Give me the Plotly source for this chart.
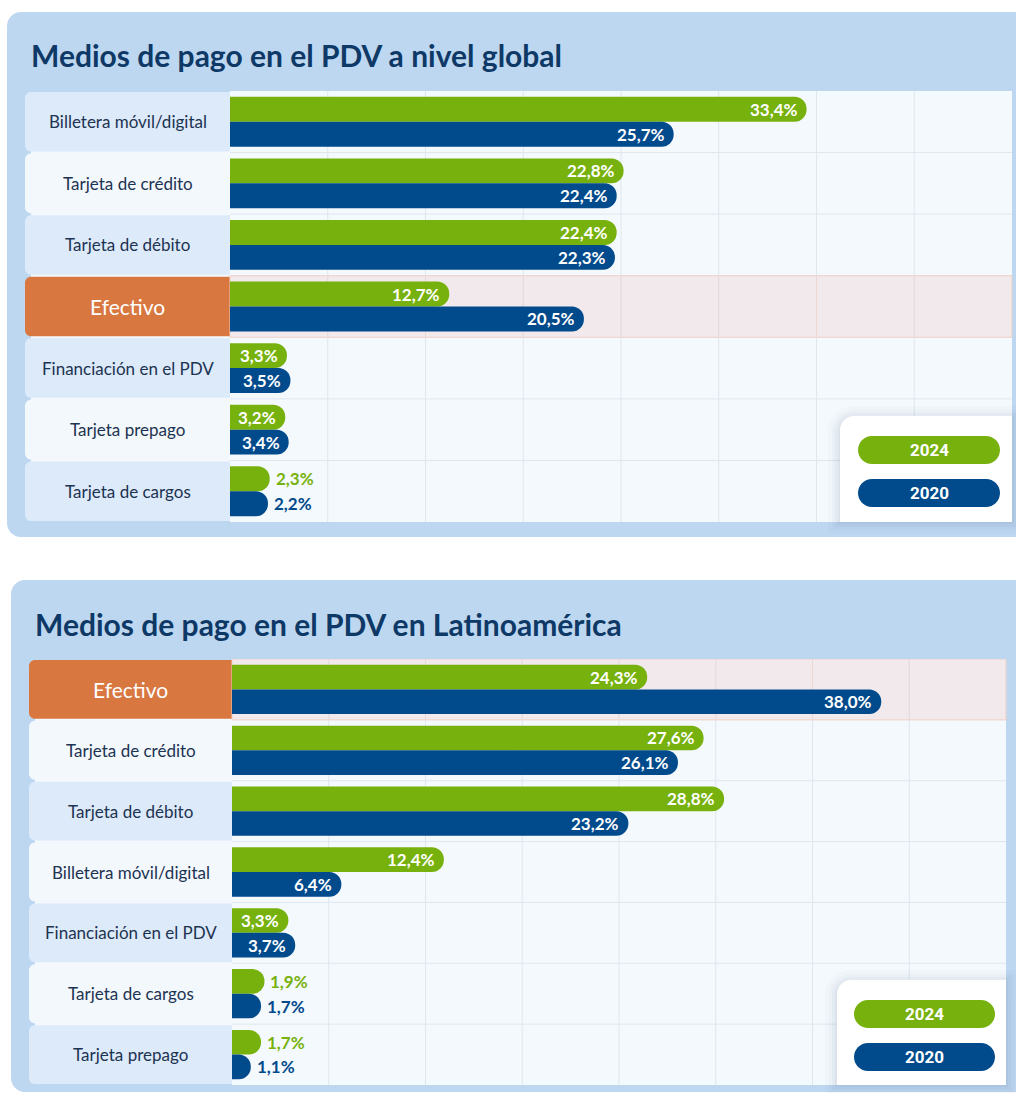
import plotly.graph_objects as go

W, H = 1016, 1093

# ---------------- data ----------------
categories_global = ["Billetera móvil/digital", "Tarjeta de crédito", "Tarjeta de débito",
                     "Efectivo", "Financiación en el PDV", "Tarjeta prepago", "Tarjeta de cargos"]
values_global_2024 = [33.4, 22.8, 22.4, 12.7, 3.3, 3.2, 2.3]
values_global_2020 = [25.7, 22.4, 22.3, 20.5, 3.5, 3.4, 2.2]

categories_latam = ["Efectivo", "Tarjeta de crédito", "Tarjeta de débito",
                    "Billetera móvil/digital", "Financiación en el PDV", "Tarjeta de cargos", "Tarjeta prepago"]
values_latam_2024 = [24.3, 27.6, 28.8, 12.4, 3.3, 1.9, 1.7]
values_latam_2020 = [38.0, 26.1, 23.2, 6.4, 3.7, 1.7, 1.1]

series_names = ["2024", "2020"]
panel_titles = ["Medios de pago en el PDV a nivel global",
                "Medios de pago en el PDV en Latinoamérica"]
highlight_category = "Efectivo"

# ---------------- style ----------------
GREEN = "#77B10D"
NAVY = "#014A8C"
CARD = "#BDD7F1"
CELL_A = "#DCEAF9"
CELL_B = "#F3F8FD"
ORANGE = "#D8773F"
PLOT_BG = "#F4F9FD"
HILITE_BG = "#F1E9EC"
HILITE_LINE = "#EFCFC3"
HILITE_GRID = "#EBD8D5"
GRID = "#DEE6EE"
TITLE_C = "#0E3966"
LABEL_C = "#1D3352"
XMAX = 45.3
BARGAP = 0.19
FONT = "Lato"

panels_geom = [
    dict(card=(7, 12, 1040, 537), title=(29, 55), label_x=(25, 230), plot_x=(230, 1012),
         rows_y=(91, 522), legend_box=(840, 416, 1012, 522),
         pills=[(858, 436, 1000, 464), (858, 479, 1000, 507)]),
    dict(card=(11, 580, 1040, 1092), title=(33, 624), label_x=(29, 232), plot_x=(232, 1006),
         rows_y=(659, 1085), legend_box=(837, 980, 1006, 1085),
         pills=[(854, 1000, 995, 1028), (854, 1043, 995, 1071)]),
]

panels_data = [
    (categories_global, values_global_2024, values_global_2020),
    (categories_latam, values_latam_2024, values_latam_2020),
]


def P(x, y):
    return f"{x / W:.5f},{1 - y / H:.5f}"


def rounded_path(x0, y0, x1, y1, tl=0, tr=0, br=0, bl=0):
    k = 0.4477
    s = [f"M{P(x0 + tl, y0)}", f"L{P(x1 - tr, y0)}"]
    if tr:
        s.append(f"C{P(x1 - tr * k, y0)} {P(x1, y0 + tr * k)} {P(x1, y0 + tr)}")
    s.append(f"L{P(x1, y1 - br)}")
    if br:
        s.append(f"C{P(x1, y1 - br * k)} {P(x1 - br * k, y1)} {P(x1 - br, y1)}")
    s.append(f"L{P(x0 + bl, y1)}")
    if bl:
        s.append(f"C{P(x0 + bl * k, y1)} {P(x0, y1 - bl * k)} {P(x0, y1 - bl)}")
    s.append(f"L{P(x0, y0 + tl)}")
    if tl:
        s.append(f"C{P(x0, y0 + tl * k)} {P(x0 + tl * k, y0)} {P(x0 + tl, y0)}")
    s.append("Z")
    return " ".join(s)


def fmt(v):
    return f"{v:.1f}".replace(".", ",") + "%"


fig = go.Figure()
shapes = []
annotations = []

for pi, (geom, (cats, v24, v20)) in enumerate(zip(panels_geom, panels_data)):
    sfx = "" if pi == 0 else str(pi + 1)
    xr, yr = "x" + sfx, "y" + sfx
    n = len(cats)
    lx0, lx1 = geom["label_x"]
    px0, px1 = geom["plot_x"]
    ry0, ry1 = geom["rows_y"]
    rh = (ry1 - ry0) / n

    # card
    cx0, cy0, cx1, cy1 = geom["card"]
    shapes.append(dict(type="path", path=rounded_path(cx0, cy0, cx1, cy1, 14, 14, 14, 14),
                       xref="paper", yref="paper", fillcolor=CARD, line=dict(width=0), layer="below"))
    # label column underlay
    shapes.append(dict(type="path", path=rounded_path(lx0 + 6, ry0 + 1, lx1, ry1 - 1),
                       xref="paper", yref="paper", fillcolor=PLOT_BG, line=dict(width=0), layer="below"))
    # label cells
    for i, c in enumerate(cats):
        y0 = ry0 + i * rh
        fill = ORANGE if c == highlight_category else (CELL_A if i % 2 == 0 else CELL_B)
        shapes.append(dict(type="path", path=rounded_path(lx0, y0 + 1, lx1, y0 + rh - 1, tl=6, bl=6),
                           xref="paper", yref="paper", fillcolor=fill, line=dict(width=0), layer="below"))
        hl = c == highlight_category
        annotations.append(dict(xref="paper", yref=yr, x=(lx0 + lx1) / 2 / W, y=i, text=c,
                                showarrow=False, xanchor="center", yanchor="middle",
                                font=dict(family=FONT, size=21 if hl else 17,
                                          color="white" if hl else LABEL_C)))

    # plot area background and grid
    shapes.append(dict(type="rect", xref=xr + " domain", yref=yr + " domain", x0=0, x1=1, y0=0, y1=1,
                       fillcolor=PLOT_BG, line=dict(width=0), layer="below"))
    hidx = cats.index(highlight_category)
    shapes.append(dict(type="rect", xref=xr + " domain", yref=yr, x0=0, x1=1, y0=hidx - 0.5, y1=hidx + 0.5,
                       fillcolor=HILITE_BG, line=dict(width=1, color=HILITE_LINE), layer="below"))
    for i in range(n - 1):
        if i == hidx or i + 1 == hidx:
            continue
        shapes.append(dict(type="line", xref=xr + " domain", yref=yr, x0=0, x1=1, y0=i + 0.5, y1=i + 0.5,
                           line=dict(width=1, color=GRID), layer="below"))
    for k in range(1, 8):
        gx = XMAX * k / 8
        shapes.append(dict(type="line", xref=xr, yref=yr + " domain", x0=gx, x1=gx, y0=0, y1=1,
                           line=dict(width=1, color=GRID), layer="below"))
        shapes.append(dict(type="line", xref=xr, yref=yr, x0=gx, x1=gx, y0=hidx - 0.5, y1=hidx + 0.5,
                           line=dict(width=1, color=HILITE_GRID), layer="below"))

    # bars
    for name, vals, color in [(series_names[0], v24, GREEN), (series_names[1], v20, NAVY)]:
        fig.add_trace(go.Bar(y=cats, x=vals, orientation="h", name=name,
                             marker=dict(color=color, cornerradius="50%", line=dict(width=0)),
                             hoverinfo="skip", showlegend=False, xaxis=xr, yaxis=yr))

    # value labels
    shift = rh * (1 - BARGAP) / 4
    for vals, color, ys in [(v24, GREEN, shift), (v20, NAVY, -shift)]:
        for i, v in enumerate(vals):
            inside = v >= 3
            annotations.append(dict(xref=xr, yref=yr, x=v, y=i, text=f"<b>{fmt(v)}</b>",
                                    showarrow=False, xanchor="right" if inside else "left",
                                    yanchor="middle", xshift=-7 if inside else 4, yshift=ys,
                                    font=dict(family=FONT, size=17,
                                              color="white" if inside else color)))

    # title
    tx, ty = geom["title"]
    annotations.append(dict(xref="paper", yref="paper", x=tx / W, y=1 - ty / H,
                            text=f"<b>{panel_titles[pi]}</b>", showarrow=False,
                            xanchor="left", yanchor="middle",
                            font=dict(family=FONT, size=30, color=TITLE_C)))

    # legend box with soft shadow
    bx0, by0, bx1, by1 = geom["legend_box"]
    for s, a in [(12, 0.018), (8, 0.025), (5, 0.03), (2, 0.04)]:
        shapes.append(dict(type="path", path=rounded_path(bx0 - s, by0 - s + 2, bx1 + s, by1 + s, tl=14 + s),
                           xref="paper", yref="paper", fillcolor=f"rgba(30,50,80,{a})",
                           line=dict(width=0), layer="above"))
    shapes.append(dict(type="path", path=rounded_path(bx0, by0, bx1, by1, tl=14),
                       xref="paper", yref="paper", fillcolor="white", line=dict(width=0), layer="above"))
    for (qx0, qy0, qx1, qy1), name, color in zip(geom["pills"], series_names, [GREEN, NAVY]):
        r = (qy1 - qy0) / 2
        shapes.append(dict(type="path", path=rounded_path(qx0, qy0, qx1, qy1, r, r, r, r),
                           xref="paper", yref="paper", fillcolor=color, line=dict(width=0), layer="above"))
        annotations.append(dict(xref="paper", yref="paper", x=(qx0 + qx1) / 2 / W,
                                y=1 - (qy0 + qy1) / 2 / H, text=f"<b>{name}</b>", showarrow=False,
                                xanchor="center", yanchor="middle",
                                font=dict(family="Roboto", size=17, color="white")))

    # axes
    xa = dict(domain=[px0 / W, px1 / W], range=[0, XMAX], showgrid=False, zeroline=False,
              showticklabels=False, showline=False, ticks="", fixedrange=True, anchor=yr)
    ya = dict(domain=[1 - ry1 / H, 1 - ry0 / H], type="category", categoryorder="array",
              categoryarray=cats, range=[n - 0.5, -0.5], showgrid=False, zeroline=False,
              showticklabels=False, showline=False, ticks="", fixedrange=True, anchor=xr)
    fig.update_layout(**{"xaxis" + sfx: xa, "yaxis" + sfx: ya})

fig.update_layout(
    width=W, height=H,
    margin=dict(l=0, r=0, t=0, b=0),
    paper_bgcolor="white", plot_bgcolor="rgba(0,0,0,0)",
    barmode="group", bargap=BARGAP, bargroupgap=0,
    shapes=shapes, annotations=annotations,
    showlegend=False,
)

fig.write_html("out.html", config={"displayModeBar": False},
               post_script="document.body.style.margin='0';document.body.style.overflow='hidden';")
